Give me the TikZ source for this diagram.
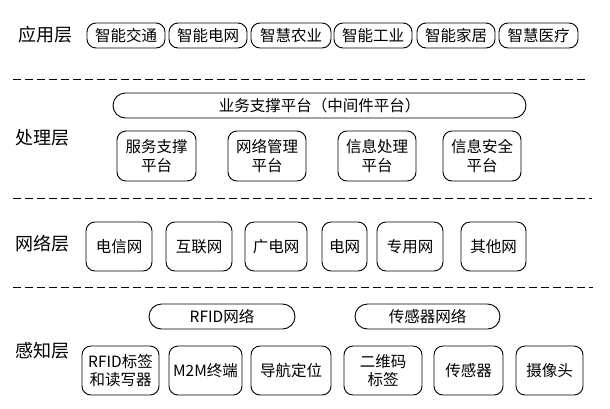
\documentclass[tikz,border=0pt]{standalone}
\usepackage{fontspec}
\setmainfont{Noto Sans CJK SC}
\tikzset{
  layer/.style={font=\fontsize{18}{20}\selectfont},
  appbox/.style={draw, rounded corners=9pt, line width=0.9pt, minimum height=25pt,
    minimum width=78pt, inner sep=0pt, font=\fontsize{15.5}{17}\selectfont},
  platbox/.style={draw, rounded corners=9pt, line width=0.9pt, minimum height=50pt,
    minimum width=79pt, inner sep=0pt, align=center, font=\fontsize{15.5}{18.5}\selectfont},
  pill/.style={draw, rounded corners=12.5pt, line width=0.9pt, minimum height=25pt,
    inner sep=0pt, font=\fontsize{15.5}{17}\selectfont},
  sep/.style={line width=0.8pt, dash pattern=on 8pt off 4pt},
}
\begin{document}
\begin{tikzpicture}[x=1pt,y=-1pt]
  \useasboundingbox (0,0) rectangle (610,408);

  % application layer
  \node[layer] (app) at (45,35) {应用层};
  \node[appbox] (a1) at (126,35.5) {智能交通};
  \node[appbox] (a2) at (208,35.5) {智能电网};
  \node[appbox, minimum width=80pt] (a3) at (291,35.5) {智慧农业};
  \node[appbox] (a4) at (373,35.5) {智能工业};
  \node[appbox] (a5) at (456,35.5) {智能家居};
  \node[appbox, minimum width=79pt] (a6) at (538.5,35.5) {智慧医疗};

  \draw[sep] (13,79) -- (587,79);

  % processing layer
  \node[layer] (proc) at (43,138) {处理层};
  \node[pill, minimum width=413pt] (mid) at (319.5,105.5) {业务支撑平台（中间件平台）};
  \node[platbox] (p1) at (156.5,156) {服务支撑\\平台};
  \node[platbox, minimum width=78pt] (p2) at (267,156) {网络管理\\平台};
  \node[platbox, minimum width=78pt] (p3) at (377,156) {信息处理\\平台};
  \node[platbox, minimum width=78pt] (p4) at (482,156) {信息安全\\平台};

  \draw[sep] (13,198) -- (592,198);

  % network layer
  \node[layer] (net) at (43,244) {网络层};
  \node[platbox, minimum width=66pt, minimum height=49pt] (n1) at (119,246.5) {电信网};
  \node[platbox, minimum width=66pt, minimum height=49pt] (n2) at (199,246.5) {互联网};
  \node[platbox, minimum width=62pt, minimum height=49pt] (n3) at (276,246.5) {广电网};
  \node[platbox, minimum width=45pt, minimum height=49pt] (n4) at (344.5,246.5) {电网};
  \node[platbox, minimum width=66pt, minimum height=49pt] (n5) at (410,246.5) {专用网};
  \node[platbox, minimum width=65pt, minimum height=49pt] (n6) at (493.5,246.5) {其他网};

  \draw[sep] (13,287) -- (593,287);

  % perception layer
  \node[layer] (sense) at (43,351) {感知层};
  \node[pill, minimum width=146pt] (rfidnet) at (222,316.5) {RFID网络};
  \node[pill, minimum width=145pt] (snet) at (427.5,316.5) {传感器网络};
  \node[platbox, minimum width=77pt, minimum height=49pt] (s1) at (120.5,370.5) {RFID标签\\和读写器};
  \node[platbox, minimum width=73pt, minimum height=49pt] (s2) at (205.5,370.5) {M2M终端};
  \node[platbox, minimum width=80pt, minimum height=49pt] (s3) at (291,370.5) {导航定位};
  \node[platbox, minimum width=78pt, minimum height=49pt] (s4) at (383,370.5) {二维码\\标签};
  \node[platbox, minimum width=69pt, minimum height=49pt] (s5) at (468.5,370.5) {传感器};
  \node[platbox, minimum width=67pt, minimum height=49pt] (s6) at (549.5,370.5) {摄像头};
\end{tikzpicture}
\end{document}
